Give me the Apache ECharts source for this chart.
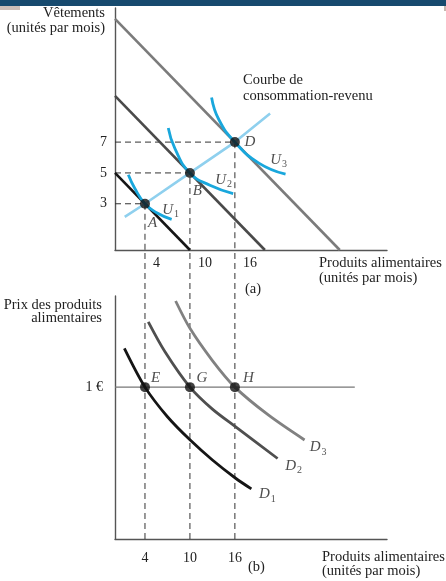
<!DOCTYPE html>
<html>
<head>
<meta charset="utf-8">
<script src="https://cdn.jsdelivr.net/npm/echarts@6/dist/echarts.min.js"></script>
<style>
  html, body { margin: 0; padding: 0; background: #fff; }
  #chart { width: 446px; height: 581px; }
</style>
</head>
<body>
<div id="chart"></div>
<script>
// ---- Data: panel (a), food vs clothing per month ----
const foodTicks = [4, 10, 16];
const clothingTicks = [3, 5, 7];
const foodAtOptimum = [4, 10, 16];
const clothingAtOptimum = [3, 5, 7];
const optimumNames = ['A', 'B', 'D'];

const budget1 = [[0, 5], [10, 0]];
const budget2 = [[0, 10], [20, 0]];
const budget3 = [[0, 15], [30, 0]];

const incomeConsumption = [[1.3, 2.15], [4, 3], [10, 5], [16, 7], [20.7, 8.85]];

const indiff1 = [[1.78, 4.88], [2.67, 3.97], [4, 3], [5.56, 2.42], [7.56, 1.99]];
const indiff2 = [[7.11, 7.92], [8.0, 6.58], [10, 5], [12.67, 4.2], [15.77, 3.66]];
const indiff3 = [[12.89, 9.9], [13.87, 8.45], [16, 7], [19.2, 5.64], [22.76, 4.92]];

// ---- Data: panel (b), demand for food ----
const foodPrice = 1;
const demandNames = ['E', 'G', 'H'];
const demand1 = [[1.25, 1.255], [4, 1.0], [7, 0.805], [10, 0.653], [13, 0.52], [16.1, 0.40], [18.2, 0.33]];
const demand2 = [[4.44, 1.43], [6.67, 1.233], [10, 1.0], [13, 0.855], [16.2, 0.735], [21.7, 0.53]];
const demand3 = [[8.09, 1.567], [10, 1.387], [13, 1.175], [16, 1.0], [20.5, 0.815], [25.3, 0.652]];
const priceLineEnd = 32;

// ---- Layout ----
const G1 = { left: 115, top: 8, width: 272, height: 242 };
const G2 = { left: 115, top: 296, width: 272, height: 243 };
const X_MAX = 36.3, Y1_MAX = 15.7, Y2_MAX = 1.6;
// how far the lower guides reach upward (in price units) to meet the upper panel's axis
const guideReach = (G2.top + G2.height - (G1.top + G1.height)) / (G2.height / Y2_MAX);

const SERIF = '"Liberation Serif", "DejaVu Serif", serif';
const INK = '#222';
const DASH = { color: '#333', width: 1, type: [6, 4] };

function txt(text, x, y, align, size, italic) {
  return {
    type: 'text', silent: true,
    style: {
      text, x, y, fill: INK,
      font: (italic ? 'italic ' : '') + (size || 14.5) + 'px ' + SERIF,
      align, textAlign: align, verticalAlign: 'middle', textVerticalAlign: 'middle'
    }
  };
}

const subRich = {
  v: { fontFamily: SERIF, fontStyle: 'italic', fontSize: 15, color: INK },
  s: { fontFamily: SERIF, fontSize: 10, color: INK, padding: [9, 0, 0, 1] }
};

function line(data, color, width, xi, extra) {
  return Object.assign({
    type: 'line', xAxisIndex: xi, yAxisIndex: xi, data, symbol: 'none',
    lineStyle: { color, width }, silent: true, animation: false
  }, extra || {});
}

// dashed L-shaped guides: from the y-axis to each optimum, then down to the axis
const guidesTop = foodAtOptimum.map((f, i) => line(
  [[0, clothingAtOptimum[i]], [f, clothingAtOptimum[i]], [f, 0]], DASH.color, 1, 0,
  { lineStyle: DASH, z: 1 }));
const guidesBottom = foodAtOptimum.map(f => line(
  [[f, 0], [f, guideReach]], DASH.color, 1, 1, { lineStyle: DASH, clip: false, z: 1 }));

const topPointOffsets = [[7.5, 19.5], [7.5, 18], [15, 0]];
const bottomPointOffsets = [[10.5, -9], [12, -9], [13.5, -9]];

const option = {
  animation: false,
  backgroundColor: '#fff',
  grid: [
    Object.assign({ containLabel: false }, G1),
    Object.assign({ containLabel: false }, G2)
  ],
  xAxis: [0, 1].map(i => ({
    gridIndex: i, type: 'value', min: 0, max: X_MAX, interval: 2,
    axisLine: { show: true, onZero: false, lineStyle: { color: '#555', width: 1.4 } },
    axisTick: { show: false }, splitLine: { show: false },
    axisLabel: {
      formatter: v => foodTicks.includes(v) ? String(v) : '',
      fontFamily: SERIF, fontSize: 14, color: INK,
      margin: i === 0 ? 6 : 12,
      align: i === 0 ? 'left' : 'center',
      padding: i === 0 ? [0, 0, 0, 8] : 0,
      showMaxLabel: false
    }
  })),
  yAxis: [
    {
      gridIndex: 0, type: 'value', min: 0, max: Y1_MAX, interval: 1,
      axisLine: { show: true, onZero: false, lineStyle: { color: '#555', width: 1.4 } },
      axisTick: { show: false }, splitLine: { show: false },
      axisLabel: {
        formatter: v => clothingTicks.includes(v) ? String(v) : '',
        fontFamily: SERIF, fontSize: 14, color: INK, margin: 8, showMaxLabel: false
      }
    },
    {
      gridIndex: 1, type: 'value', min: 0, max: Y2_MAX, interval: 0.2,
      axisLine: { show: true, onZero: false, lineStyle: { color: '#555', width: 1.4 } },
      axisTick: { show: false }, splitLine: { show: false },
      axisLabel: {
        formatter: v => Math.abs(v - foodPrice) < 1e-6 ? '1 €' : '',
        fontFamily: SERIF, fontSize: 14, color: INK, margin: 12, showMaxLabel: false
      }
    }
  ],
  series: [
    // panel (a)
    ...guidesTop,
    line(budget1, '#161616', 2.6, 0),
    line(budget2, '#4a4a4a', 2.6, 0),
    line(budget3, '#7b7b7b', 2.6, 0),
    line(incomeConsumption, '#8fd0ee', 2.6, 0),
    line(indiff1, '#19a7dc', 2.8, 0, { smooth: 0.5 }),
    line(indiff2, '#19a7dc', 2.8, 0, { smooth: 0.5 }),
    line(indiff3, '#19a7dc', 2.8, 0, { smooth: 0.5 }),
    {
      type: 'scatter', xAxisIndex: 0, yAxisIndex: 0, silent: true, z: 5,
      symbolSize: 10, itemStyle: { color: '#111' },
      data: foodAtOptimum.map((f, i) => ({
        value: [f, clothingAtOptimum[i]],
        label: {
          show: true, position: 'inside', formatter: optimumNames[i], offset: topPointOffsets[i],
          fontFamily: SERIF, fontStyle: 'italic', fontSize: 15, color: INK
        }
      }))
    },
    {
      type: 'scatter', xAxisIndex: 0, yAxisIndex: 0, silent: true, z: 5,
      symbolSize: 0,
      data: [indiff1, indiff2, indiff3].map((c, i) => ({
        value: c[c.length - 1],
        label: {
          show: true, position: 'inside', formatter: '{v|U}{s|' + (i + 1) + '}',
          offset: [[-1, -9], [-9.5, -14], [-7, -14]][i], rich: subRich
        }
      }))
    },
    // panel (b)
    ...guidesBottom,
    line([[0, foodPrice], [priceLineEnd, foodPrice]], '#777', 1.2, 1),
    line(demand1, '#151515', 2.8, 1, { smooth: 0.3 }),
    line(demand2, '#4f4f4f', 2.8, 1, { smooth: 0.3 }),
    line(demand3, '#818181', 2.8, 1, { smooth: 0.3 }),
    {
      type: 'scatter', xAxisIndex: 1, yAxisIndex: 1, silent: true, z: 5,
      symbolSize: 10, itemStyle: { color: '#111' },
      data: foodAtOptimum.map((f, i) => ({
        value: [f, foodPrice],
        label: {
          show: true, position: 'inside', formatter: demandNames[i], offset: bottomPointOffsets[i],
          fontFamily: SERIF, fontStyle: 'italic', fontSize: 15, color: INK
        }
      }))
    },
    {
      type: 'scatter', xAxisIndex: 1, yAxisIndex: 1, silent: true, z: 5,
      symbolSize: 0,
      data: [demand1, demand2, demand3].map((c, i) => ({
        value: c[c.length - 1],
        label: {
          show: true, position: 'inside', formatter: '{v|D}{s|' + (i + 1) + '}',
          offset: [[16, 5.5], [16, 7.5], [13.5, 7.5]][i], rich: subRich
        }
      }))
    }
  ],
  graphic: [
    { type: 'rect', silent: true, shape: { x: 0, y: 0, width: 446, height: 6 }, style: { fill: '#174a6e' } },
    { type: 'rect', silent: true, shape: { x: 0, y: 6, width: 20, height: 4 }, style: { fill: '#cdbfb8' } },
    { type: 'rect', silent: true, shape: { x: 444, y: 6, width: 2, height: 5 }, style: { fill: '#c8b8b0' } },
    txt('Vêtements', 105, 13.5, 'right'),
    txt('(unités par mois)', 105, 28, 'right'),
    txt('Courbe de', 243, 80, 'left'),
    txt('consommation-revenu', 243, 96, 'left'),
    txt('Produits alimentaires', 319, 263, 'left'),
    txt('(unités par mois)', 319, 278, 'left'),
    txt('(a)', 245, 289, 'left'),
    txt('Prix des produits', 102, 305, 'right'),
    txt('alimentaires', 102, 318, 'right'),
    txt('Produits alimentaires', 322, 557, 'left'),
    txt('(unités par mois)', 322, 571, 'left'),
    txt('(b)', 248, 567, 'left')
  ]
};

const chart = echarts.init(document.getElementById('chart'), null, { renderer: 'canvas' });
chart.setOption(option);
</script>
</body>
</html>
